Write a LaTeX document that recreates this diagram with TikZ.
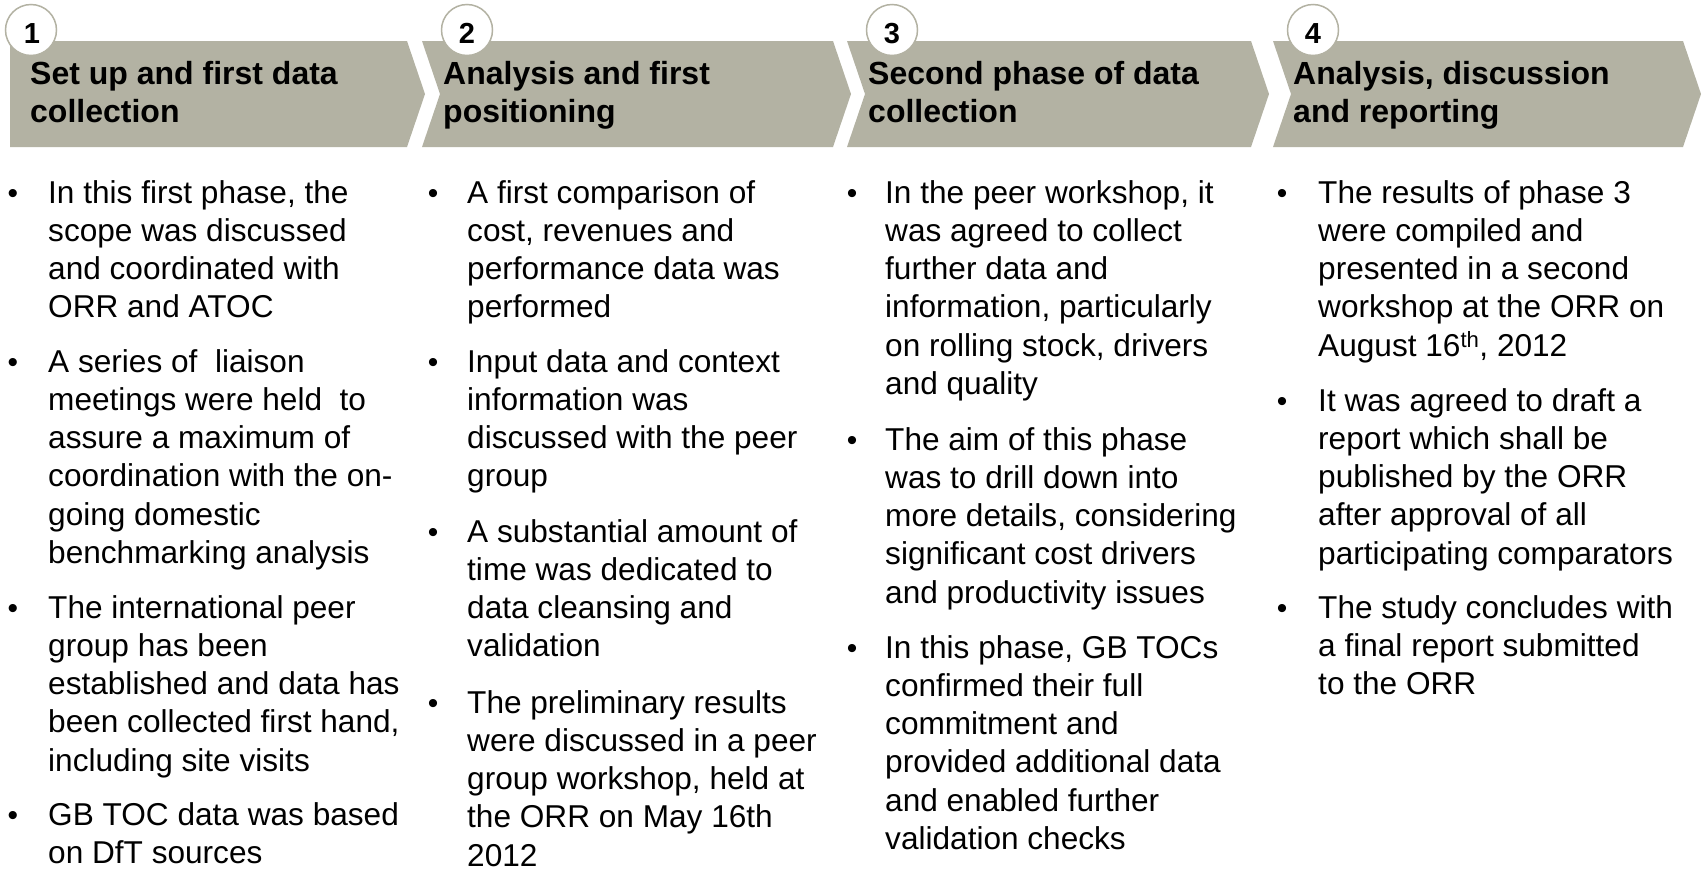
\documentclass[tikz,border=0pt]{standalone}
\usepackage{fontspec}
\setmainfont{Liberation Sans}
\definecolor{chev}{HTML}{B3B2A3}
\newcommand{\btext}[1]{\begin{minipage}[t]{400pt}\raggedright\fontsize{31.6}{38.3}\selectfont #1\end{minipage}}
\newcommand{\htext}[1]{\begin{minipage}[t]{400pt}\raggedright\bfseries\fontsize{32}{38.5}\selectfont #1\end{minipage}}
\tikzset{
  chevfill/.style={fill=chev},
  numcirc/.style={circle, draw=chev, fill=white, line width=1.5pt, minimum size=51pt, inner sep=0pt},
  numtxt/.style={anchor=base, inner sep=0pt, font=\bfseries\fontsize{29}{32}\selectfont},
  headtxt/.style={anchor=base west, inner sep=0pt},
  bodytxt/.style={anchor=base west, inner sep=0pt},
  bul/.style={anchor=base, inner sep=0pt, font=\fontsize{30}{38.3}\selectfont},
}
\begin{document}
\begin{tikzpicture}[x=1pt,y=-1pt]
\useasboundingbox (0,0) rectangle (1705,868);
% chevrons
\fill[chevfill] (10,41)--(407,41)--(425,94)--(407,147)--(10,147)--cycle;
\fill[chevfill] (422,41)--(833,41)--(851,94)--(833,147)--(422,147)--(440,94)--cycle;
\fill[chevfill] (847,41)--(1251,41)--(1269,94)--(1251,147)--(847,147)--(865,94)--cycle;
\fill[chevfill] (1273,41)--(1683,41)--(1701,94)--(1683,147)--(1273,147)--(1291,94)--cycle;
% number circles
\node[numcirc] (c1) at (31,30) {};
\node[numcirc] (c2) at (467,30) {};
\node[numcirc] (c3) at (892,30) {};
\node[numcirc] (c4) at (1313,30) {};
\node[numtxt] (d1) at (32,43) {1};
\node[numtxt] (d2) at (467,43) {2};
\node[numtxt] (d3) at (892,43) {3};
\node[numtxt] (d4) at (1313,43) {4};
% headers
\node[headtxt] (h1) at (30,84) {\htext{Set up and first data\\collection}};
\node[headtxt] (h2) at (443,84) {\htext{Analysis and first\\positioning}};
\node[headtxt] (h3) at (868,84) {\htext{Second phase of data\\collection}};
\node[headtxt] (h4) at (1293,84) {\htext{Analysis, discussion\\and reporting}};
% column 1
\node[bul] (u11) at (13,203) {•};
\node[bodytxt] (t11) at (48,203) {\btext{In this first phase, the\\scope was discussed\\and coordinated with\\ORR and ATOC}};
\node[bul] (u12) at (13,372) {•};
\node[bodytxt] (t12) at (48,372) {\btext{A series of\ \ liaison\\meetings were held\ \ to\\assure a maximum of\\coordination with the on-\\going domestic\\benchmarking analysis}};
\node[bul] (u13) at (13,618) {•};
\node[bodytxt] (t13) at (48,618) {\btext{The international peer\\group has been\\established and data has\\been collected first hand,\\including site visits}};
\node[bul] (u14) at (13,825) {•};
\node[bodytxt] (t14) at (48,825) {\btext{GB TOC data was based\\on DfT sources}};
% column 2
\node[bul] (u21) at (433,203) {•};
\node[bodytxt] (t21) at (467,203) {\btext{A first comparison of\\cost, revenues and\\performance data was\\performed}};
\node[bul] (u22) at (433,372) {•};
\node[bodytxt] (t22) at (467,372) {\btext{Input data and context\\information was\\discussed with the peer\\group}};
\node[bul] (u23) at (433,542) {•};
\node[bodytxt] (t23) at (467,542) {\btext{A substantial amount of\\time was dedicated to\\data cleansing and\\validation}};
\node[bul] (u24) at (433,713) {•};
\node[bodytxt] (t24) at (467,713) {\btext{The preliminary results\\were discussed in a peer\\group workshop, held at\\the ORR on May 16th\\2012}};
% column 3
\node[bul] (u31) at (852,203) {•};
\node[bodytxt] (t31) at (885,203) {\btext{In the peer workshop, it\\was agreed to collect\\further data and\\information, particularly\\on rolling stock, drivers\\and quality}};
\node[bul] (u32) at (852,450) {•};
\node[bodytxt] (t32) at (885,450) {\btext{The aim of this phase\\was to drill down into\\more details, considering\\significant cost drivers\\and productivity issues}};
\node[bul] (u33) at (852,658) {•};
\node[bodytxt] (t33) at (885,658) {\btext{In this phase, GB TOCs\\confirmed their full\\commitment and\\provided additional data\\and enabled further\\validation checks}};
% column 4
\node[bul] (u41) at (1282,203) {•};
\node[bodytxt] (t41) at (1318,203) {\btext{The results of phase 3\\were compiled and\\presented in a second\\workshop at the ORR on\\August 16\textsuperscript{th}, 2012}};
\node[bul] (u42) at (1282,411) {•};
\node[bodytxt] (t42) at (1318,411) {\btext{It was agreed to draft a\\report which shall be\\published by the ORR\\after approval of all\\participating comparators}};
\node[bul] (u43) at (1282,618) {•};
\node[bodytxt] (t43) at (1318,618) {\btext{The study concludes with\\a final report submitted\\to the ORR}};
\end{tikzpicture}
\end{document}
